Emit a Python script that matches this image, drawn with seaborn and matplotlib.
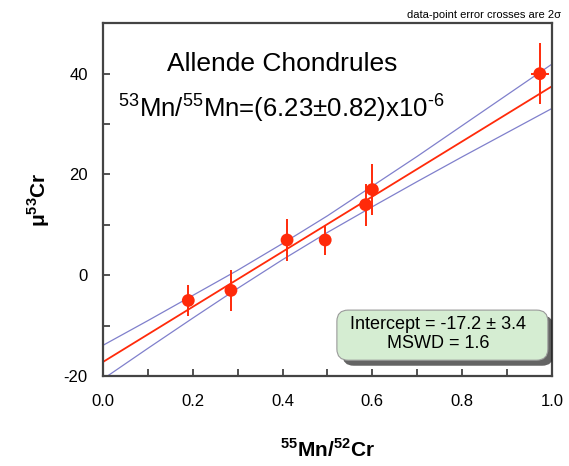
import matplotlib
matplotlib.use('Agg')
import matplotlib.pyplot as plt
import matplotlib.patheffects as pe
from matplotlib.patches import FancyBboxPatch
from matplotlib.ticker import MultipleLocator
import pandas as pd
import seaborn as sns

# chondrule measurements (55Mn/52Cr, mu53Cr) with 2 sigma errors
mnCr = [0.19, 0.285, 0.41, 0.495, 0.585, 0.60, 0.973]
mu53 = [-5.0, -3.0, 7.0, 7.0, 14.0, 17.0, 40.0]
yErr = [3.0, 4.1, 4.1, 3.0, 4.2, 5.1, 6.1]
xErr = [0.008, 0.008, 0.010, 0.010, 0.012, 0.012, 0.020]

# isochron fit and its error envelope
fitX = [0.0, 1.0]
fitY = [-17.2, 37.5]
bandX = [0.0, 0.1, 0.2, 0.3, 0.4, 0.5, 0.6, 0.7, 0.8, 0.9, 1.0]
bandUpper = [-13.9, -9.0, -4.0, 1.0, 6.3, 11.8, 17.7, 23.6, 29.7, 35.8, 41.9]
bandLower = [-20.6, -14.5, -8.5, -2.6, 3.1, 8.5, 13.6, 18.6, 23.5, 28.3, 33.1]

red = '#ff2a0a'
blue = '#8080cc'

sns.set_style('ticks')
plt.rcParams['font.family'] = ['Liberation Sans', 'DejaVu Sans']
plt.rcParams['mathtext.fontset'] = 'custom'
plt.rcParams['mathtext.rm'] = 'Liberation Sans'
plt.rcParams['mathtext.bf'] = 'Liberation Sans:bold'
plt.rcParams['axes.unicode_minus'] = False
plt.rcParams['text.color'] = 'black'
plt.rcParams['axes.labelcolor'] = 'black'
plt.rcParams['xtick.labelcolor'] = 'black'
plt.rcParams['ytick.labelcolor'] = 'black'

fig = plt.figure(figsize=(5.69, 4.66), dpi=100)
ax = fig.add_axes([0.181, 0.193, 0.789, 0.757])

df_band = pd.DataFrame({'x': bandX + bandX,
                        'y': bandUpper + bandLower,
                        'side': ['up'] * len(bandX) + ['low'] * len(bandX)})
sns.lineplot(data=df_band, x='x', y='y', units='side', estimator=None,
             color=blue, linewidth=0.9, ax=ax)
sns.lineplot(x=fitX, y=fitY, color=red, linewidth=1.3, ax=ax)

ax.errorbar(mnCr, mu53, yerr=yErr, xerr=xErr, fmt='none', ecolor=red,
            elinewidth=1.4, capsize=0, zorder=3)
sns.scatterplot(x=mnCr, y=mu53, color=red, s=85, edgecolor='none', zorder=4, ax=ax)

ax.set_xlim(0, 1)
ax.set_ylim(-20, 50)
ax.xaxis.set_major_locator(MultipleLocator(0.2))
ax.xaxis.set_minor_locator(MultipleLocator(0.1))
ax.yaxis.set_major_locator(MultipleLocator(20))
ax.yaxis.set_minor_locator(MultipleLocator(10))
ax.set_yticks([-20, 0, 20, 40])
ax.xaxis.set_major_formatter(matplotlib.ticker.FormatStrFormatter('%.1f'))
ax.tick_params(which='both', direction='in', length=5, width=1.2, color='#333333',
               top=False, right=False)
ax.tick_params(axis='x', which='major', labelsize=12, pad=13)
ax.tick_params(axis='y', which='major', labelsize=12, pad=11)
for s in ax.spines.values():
    s.set_visible(True)
    s.set_color('#444444')
    s.set_linewidth(1.6)

ax.set_xlabel('$^{\\mathbf{55}}$Mn/$^{\\mathbf{52}}$Cr', fontsize=15,
              fontweight='bold', labelpad=21)
ax.set_ylabel('μ$^{\\mathbf{53}}$Cr', fontsize=15, fontweight='bold', labelpad=8)

ax.text(0.40, 0.885, 'Allende Chondrules', transform=ax.transAxes,
        fontsize=19, ha='center', va='center')
ax.text(0.033, 0.76, '$^{53}$Mn/$^{55}$Mn=(6.23±0.82)x10$^{\u2010 6}$',
        transform=ax.transAxes, fontsize=18.5, ha='left', va='center')

# result box with drop shadow
box = FancyBboxPatch((0.521, 0.045), 0.47, 0.142, transform=ax.transAxes,
                     boxstyle='round,pad=0,rounding_size=0.025',
                     mutation_aspect=449 / 353,
                     facecolor='#d5edd2', edgecolor='#9a9a9a', linewidth=0.8,
                     zorder=5)
box.set_path_effects([
    pe.SimplePatchShadow(offset=(4, -4), shadow_rgbFace='#222222', alpha=0.7),
    pe.Normal()])
ax.add_patch(box)
ax.text(0.746, 0.118, 'Intercept = -17.2 ± 3.4\nMSWD = 1.6',
        transform=ax.transAxes, fontsize=13, ha='center', va='center',
        linespacing=1.15, zorder=6)

fig.text(0.986, 0.968, 'data-point error crosses are 2σ', fontsize=8,
         ha='right', va='center')

fig.savefig('out.png', dpi=100)
